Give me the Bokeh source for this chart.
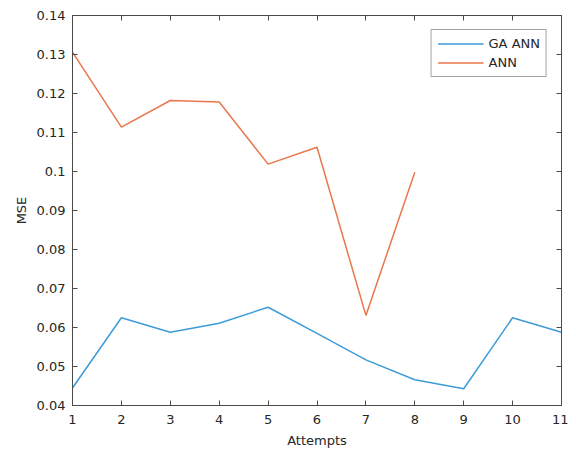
from bokeh.plotting import figure
from bokeh.models import LinearAxis, FixedTicker, Range1d, Legend, LegendItem
from bokeh.embed import file_html
from bokeh.resources import INLINE

attempts_ga = [1, 2, 3, 4, 5, 6, 7, 8, 9, 10, 11]
mse_ga_ann = [0.0445, 0.0625, 0.0588, 0.0611, 0.0652, 0.0585, 0.0517, 0.0466, 0.0443, 0.0625, 0.0588]
attempts_ann = [1, 2, 3, 4, 5, 6, 7, 8]
mse_ann = [0.1306, 0.1114, 0.1182, 0.1178, 0.1019, 0.1062, 0.0631, 0.0998]
x_ticks = [1, 2, 3, 4, 5, 6, 7, 8, 9, 10, 11]
y_ticks = [0.04, 0.05, 0.06, 0.07, 0.08, 0.09, 0.10, 0.11, 0.12, 0.13, 0.14]
y_labels = {0.04: "0.04", 0.05: "0.05", 0.06: "0.06", 0.07: "0.07", 0.08: "0.08", 0.09: "0.09",
            0.10: "0.1", 0.11: "0.11", 0.12: "0.12", 0.13: "0.13", 0.14: "0.14"}

FONT = "DejaVu Sans"
AX = "#4a4a4a"
TXT = "#262626"

p = figure(width=568, height=448, output_backend="svg", toolbar_location=None,
           x_range=Range1d(1, 11), y_range=Range1d(0.04, 0.14),
           min_border_left=72, min_border_right=7, min_border_top=15, min_border_bottom=43,
           frame_width=489, frame_height=390)
p.xgrid.visible = False
p.ygrid.visible = False
p.outline_line_color = AX
p.outline_line_width = 1

l1 = p.line(attempts_ga, mse_ga_ann, line_color="#3D9BD8", line_width=1.5)
l2 = p.line(attempts_ann, mse_ann, line_color="#EA774C", line_width=1.5)

for ax in (p.xaxis[0], p.yaxis[0]):
    ax.axis_line_color = AX
    ax.major_tick_line_color = AX
    ax.major_tick_in = 5
    ax.major_tick_out = 0
    ax.minor_tick_line_color = None
    ax.major_label_text_font = FONT
    ax.major_label_text_font_size = "13px"
    ax.major_label_text_color = TXT
    ax.axis_label_text_font = FONT
    ax.axis_label_text_font_size = "13px"
    ax.axis_label_text_font_style = "normal"
    ax.axis_label_text_color = TXT

p.xaxis[0].ticker = FixedTicker(ticks=x_ticks)
p.yaxis[0].ticker = FixedTicker(ticks=y_ticks)
p.yaxis[0].major_label_overrides = y_labels
p.xaxis[0].axis_label = "Attempts"
p.yaxis[0].axis_label = "MSE"
p.xaxis[0].major_label_standoff = 9
p.yaxis[0].major_label_standoff = 7
p.xaxis[0].axis_label_standoff = 6
p.yaxis[0].axis_label_standoff = 5

top = LinearAxis(ticker=FixedTicker(ticks=x_ticks), major_label_text_color=None,
                 major_tick_in=5, major_tick_out=0, minor_tick_line_color=None,
                 axis_line_color=AX, major_tick_line_color=AX, major_label_standoff=0)
right = LinearAxis(ticker=FixedTicker(ticks=y_ticks), major_label_text_color=None,
                   major_tick_in=5, major_tick_out=0, minor_tick_line_color=None,
                   axis_line_color=AX, major_tick_line_color=AX, major_label_standoff=0)
p.add_layout(top, "above")
p.add_layout(right, "right")

legend = Legend(items=[LegendItem(label="GA ANN", renderers=[l1]),
                       LegendItem(label="ANN", renderers=[l2])],
                location="top_right")
legend.label_text_font = FONT
legend.label_text_font_size = "13px"
legend.label_text_color = TXT
legend.border_line_color = AX
legend.border_line_width = 1
legend.glyph_width = 46
legend.glyph_height = 15
legend.label_height = 15
legend.spacing = 4
legend.padding = 6
legend.margin = 14
legend.label_standoff = 5
legend.background_fill_color = "white"
p.add_layout(legend)

open("out.html", "w").write(file_html(p, INLINE))
